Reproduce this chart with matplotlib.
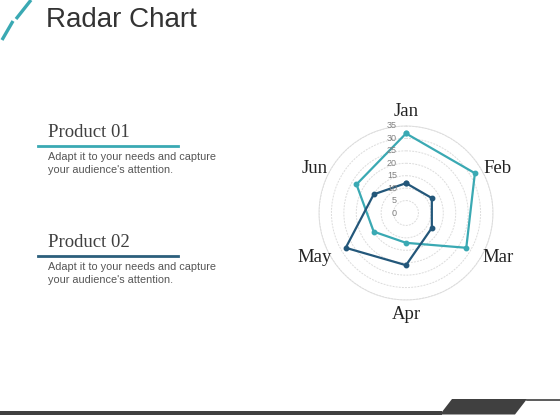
import numpy as np
import matplotlib
matplotlib.use("Agg")
import matplotlib.pyplot as plt
from matplotlib.transforms import offset_copy
from matplotlib.patches import Polygon

# data
months = ["Jan", "Feb", "Mar", "Apr", "May", "Jun"]
product_01 = [32, 32, 28, 12, 15, 23]
product_02 = [12, 12, 12, 21, 28, 15]
r_ticks = [0, 5, 10, 15, 20, 25, 30, 35]

teal = "#3aa9b3"
navy = "#23577a"
grey_txt = "#555555"

fig = plt.figure(figsize=(5.6, 4.2), dpi=100)
fig.patch.set_facecolor("white")

# background axes in pixel coords for the slide decoration
bg = fig.add_axes([0, 0, 1, 1])
bg.set_xlim(0, 560)
bg.set_ylim(420, 0)
bg.axis("off")

# slash marks top left
bg.plot([31, 16], [0, 19], color=teal, lw=2.4, solid_capstyle="butt")
bg.plot([13, 2], [21, 40], color=teal, lw=2.4, solid_capstyle="butt")
bg.text(46, 27, "Radar Chart", fontsize=20, color="#333333",
        family="Liberation Sans", va="baseline", ha="left")

# product blocks
blocks = [("Product 01", 137, teal), ("Product 02", 247, "#2c5f7c")]
for name, y, col in blocks:
    bg.text(48, y, name, fontsize=13.5, family="Liberation Serif",
            color="#404040", va="baseline", ha="left")
    bg.plot([38, 178], [y + 8.5, y + 8.5], color=col, lw=2)
    bg.text(48, y + 23, "Adapt it to your needs and capture", fontsize=7.8,
            family="Liberation Sans", color=grey_txt, va="baseline", ha="left")
    bg.text(48, y + 36, "your audience's attention.", fontsize=7.8,
            family="Liberation Sans", color=grey_txt, va="baseline", ha="left")

# bottom bar
dark = "#404040"
bg.add_patch(Polygon([[0, 411], [442, 411], [442, 414.5], [0, 414.5]],
                     closed=True, color=dark, lw=0))
bg.add_patch(Polygon([[452, 399], [527, 399], [515, 414.5], [440, 414.5]],
                     closed=True, color=dark, lw=0))
bg.plot([527, 560], [399.8, 399.8], color=dark, lw=1.2)

# radar
cx, cy, rad = 406, 213, 87
ax = fig.add_axes([(cx - rad) / 560, (420 - cy - rad) / 420,
                   2 * rad / 560, 2 * rad / 420], projection="polar")
ax.set_theta_zero_location("N")
ax.set_theta_direction(-1)
ax.set_ylim(0, 35)
ax.set_facecolor("none")

theta = np.linspace(0, 2 * np.pi, len(months), endpoint=False)
th = np.append(theta, theta[0])

for vals, col in [(product_01, teal), (product_02, navy)]:
    v = np.append(vals, vals[0])
    ax.plot(th, v, color=col, lw=1.6, marker="o", markersize=3.2, zorder=3)

ax.set_xticks([])
ax.set_yticks(r_ticks[1:])
ax.set_yticklabels([])
ax.yaxis.grid(True, color="#dcdcdc", lw=0.7, linestyle=(0, (2, 1.2)))
ax.xaxis.grid(False)
ax.spines["polar"].set_color("#dcdcdc")
ax.spines["polar"].set_linewidth(0.7)
ax.spines["polar"].set_linestyle((0, (2, 1.2)))

lab_tr = offset_copy(ax.transData, fig=fig, x=-9, y=0, units="dots")
for t in r_ticks:
    ax.text(0, t, str(t), transform=lab_tr, fontsize=6.5, color="#808080",
            ha="right", va="center", family="Liberation Sans")

# month labels sit a bit flatter than the spokes, like the original
lab_ang = np.deg2rad([0, 64, 116, 180, 244, 296])
for a, m in zip(lab_ang, months):
    ax.text(a, 41, m, fontsize=13.5, family="Liberation Serif",
            color="#222222", ha="center", va="center", clip_on=False)

fig.savefig("out.png", dpi=100, facecolor="white")
